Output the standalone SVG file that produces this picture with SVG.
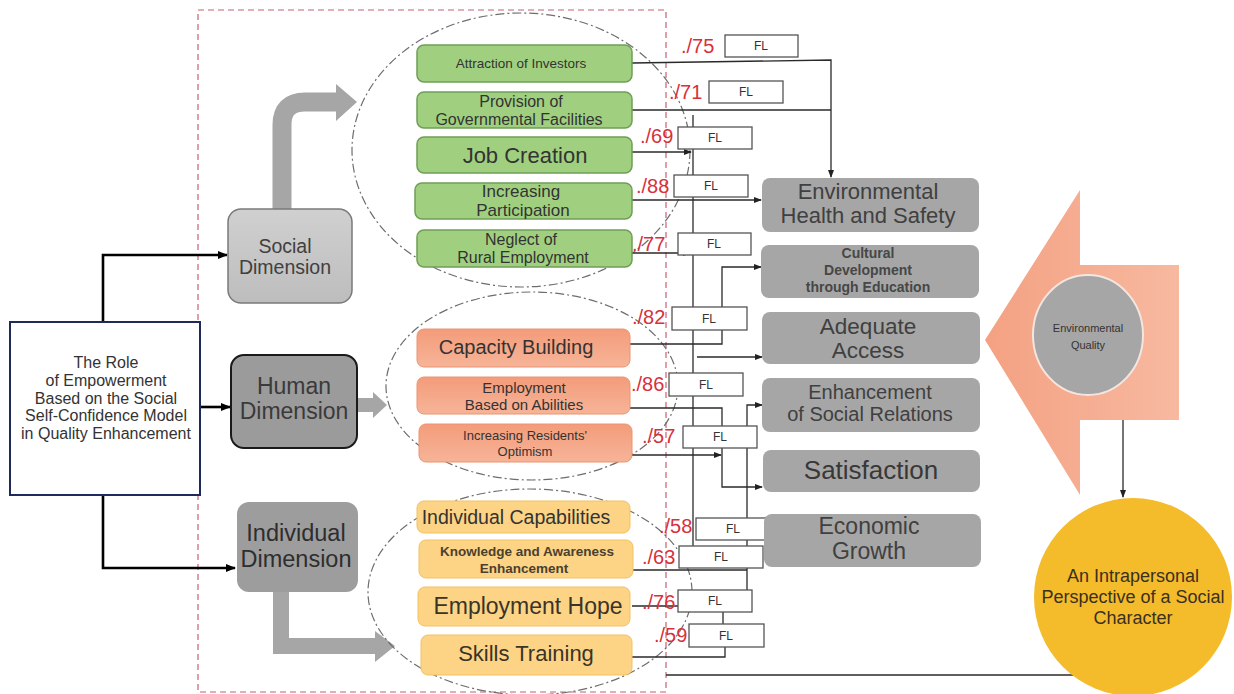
<svg xmlns="http://www.w3.org/2000/svg" width="1234" height="694" viewBox="0 0 1234 694">
<defs>
<marker id="ah" markerWidth="8" markerHeight="8" refX="7" refY="4" orient="auto" markerUnits="userSpaceOnUse"><path d="M0,1 L8,4 L0,7 Z" fill="#222"/></marker>
<marker id="ahb" markerWidth="10" markerHeight="10" refX="9" refY="5" orient="auto" markerUnits="userSpaceOnUse"><path d="M0,1 L10,5 L0,9 Z" fill="#000"/></marker>
<linearGradient id="gsoc" x1="0" y1="0" x2="0" y2="1"><stop offset="0" stop-color="#d0d0d0"/><stop offset="1" stop-color="#bdbdbd"/></linearGradient>
<linearGradient id="gor" x1="0" y1="0" x2="0" y2="1"><stop offset="0" stop-color="#f39c7a"/><stop offset="1" stop-color="#f7b498"/></linearGradient>
<linearGradient id="gbig" x1="0" y1="0" x2="1" y2="0"><stop offset="0" stop-color="#f4a182"/><stop offset="1" stop-color="#f7b9a0"/></linearGradient>
</defs>
<style>
text{font-family:"Liberation Sans",Arial,sans-serif;text-anchor:middle}
.green{fill:#a0d07f;stroke:#6f9e57;stroke-width:1.5}
.orange{fill:url(#gor);stroke:#eb9472;stroke-width:1}
.yellow{fill:#fdd486;stroke:#f3c15f;stroke-width:1}
.grey{fill:#a6a6a6}
.t{fill:#333}
.tg{fill:#404040}
.fl{fill:#fff;stroke:#555;stroke-width:1.3}
.flt{font-size:12px;fill:#333}
.red{font-size:20px;fill:#d8303c;text-anchor:start}
.conn{fill:none;stroke:#2a2a2a;stroke-width:1.3}
.blk{fill:none;stroke:#000;stroke-width:2.6}
.ell{fill:none;stroke:#6d6d6d;stroke-width:1.2;stroke-dasharray:9 3 2 3}
.garrow{fill:#a6a6a6}
</style>

<!-- red dashed frame -->
<rect x="198" y="10" width="468" height="682" fill="none" stroke="#c8606e" stroke-width="1.2" stroke-dasharray="6 4"/>

<!-- grey arrows -->
<g id="arrows-dim">
<path d="M282,209 V125 Q282,102 305,102 H337" fill="none" stroke="#a6a6a6" stroke-width="19"/>
<polygon class="garrow" points="336,84 357,102 336,121"/>
<rect class="garrow" x="358" y="398" width="16" height="14"/>
<polygon class="garrow" points="373,392 387,405 373,418"/>
<path d="M281,592 V646 H377" fill="none" stroke="#a6a6a6" stroke-width="16"/>
<polygon class="garrow" points="375,631 395,646 375,662"/>
</g>

<!-- dashed ellipses -->
<ellipse class="ell" cx="521" cy="150" rx="169" ry="137"/>
<ellipse class="ell" cx="532" cy="386" rx="146" ry="94"/>
<ellipse class="ell" cx="530" cy="592" rx="162" ry="103"/>

<!-- connectors -->
<g id="connectors">
<path class="blk" d="M103,322 V255 H227" marker-end="url(#ahb)"/>
<path class="blk" d="M200,407 H230" marker-end="url(#ahb)"/>
<path class="blk" d="M103,495 V568 H235" marker-end="url(#ahb)"/>

<path class="conn" d="M632,63 L831,60 V177" marker-end="url(#ah)"/>
<path class="conn" d="M632,110 H831"/>
<path class="conn" d="M632,152 H691" marker-end="url(#ah)"/>
<path class="conn" d="M693,115 V546"/>
<path class="conn" d="M632,200 H761" marker-end="url(#ah)"/>
<path class="conn" d="M632,253 H690" marker-end="url(#ah)"/>
<path class="conn" d="M630,344 H722 V267 H761" marker-end="url(#ah)"/>
<path class="conn" d="M697,357 H762" marker-end="url(#ah)"/>
<path class="conn" d="M630,408 H722 V427"/>
<path class="conn" d="M632,455 H721" marker-end="url(#ah)"/>
<path class="conn" d="M722,448 V487 H762" marker-end="url(#ah)"/>
<path class="conn" d="M747,590 V405 H762" marker-end="url(#ah)"/>
<path class="conn" d="M633,570 H747"/>
<path class="conn" d="M632,606 H678"/>
<path class="conn" d="M723,612 V624"/>
<path class="conn" d="M632,657 H725 V647"/>
<path class="conn" d="M666,675 H1125"/>
<path class="conn" d="M1123,420 V497" marker-end="url(#ah)"/>
</g>

<!-- left main node -->
<g id="n-role">
<rect x="10" y="322" width="190" height="173" fill="#fff" stroke="#1f2a5c" stroke-width="2"/>
<text class="t" font-size="16" x="106"><tspan x="106" y="368">The Role</tspan><tspan x="106" y="386">of Empowerment</tspan><tspan x="106" y="404">Based on the Social</tspan><tspan x="106" y="421">Self-Confidence Model</tspan><tspan x="106" y="439">in Quality Enhancement</tspan></text>
</g>

<g id="n-social">
<rect x="228" y="209" width="124" height="94" rx="13" fill="url(#gsoc)" stroke="#7a7a7a" stroke-width="1.5"/>
<text class="tg" font-size="19.5"><tspan x="285" y="253">Social</tspan><tspan x="285" y="274">Dimension</tspan></text>
</g>
<g id="n-human">
<rect x="231" y="355" width="126" height="93" rx="13" fill="#9b9b9b" stroke="#1a1a1a" stroke-width="2"/>
<text fill="#3a3a3a" font-size="23"><tspan x="294" y="394">Human</tspan><tspan x="294" y="419">Dimension</tspan></text>
</g>
<g id="n-individual">
<rect x="237" y="502" width="121" height="90" rx="12" fill="#9d9d9d"/>
<text fill="#2e2e2e" font-size="23.5"><tspan x="296" y="541">Individual</tspan><tspan x="296" y="567">Dimension</tspan></text>
</g>

<!-- green boxes -->
<g id="n-attraction"><rect class="green" x="417" y="45" width="215" height="37" rx="7"/><text class="t" font-size="13.5" x="521" y="68">Attraction of Investors</text></g>
<g id="n-provision"><rect class="green" x="417" y="92" width="215" height="36" rx="7"/><text class="t" font-size="16"><tspan x="521" y="107">Provision of</tspan><tspan x="519" y="125">Governmental Facilities</tspan></text></g>
<g id="n-jobcreation"><rect class="green" x="417" y="137" width="215" height="36" rx="7"/><text class="t" font-size="22" x="525" y="163">Job Creation</text></g>
<g id="n-participation"><rect class="green" x="415" y="183" width="217" height="36" rx="7"/><text class="t" font-size="17"><tspan x="521" y="197">Increasing</tspan><tspan x="523" y="216">Participation</tspan></text></g>
<g id="n-neglect"><rect class="green" x="417" y="230" width="215" height="37" rx="7"/><text class="t" font-size="16"><tspan x="521" y="245">Neglect of</tspan><tspan x="523" y="263">Rural Employment</tspan></text></g>

<!-- orange boxes -->
<g id="n-capacity"><rect class="orange" x="417" y="329" width="213" height="38" rx="7"/><text class="t" font-size="20" x="516" y="354">Capacity Building</text></g>
<g id="n-abilities"><rect class="orange" x="417" y="377" width="213" height="37" rx="7"/><text class="t" font-size="15"><tspan x="524" y="393">Employment</tspan><tspan x="524" y="410">Based on Abilities</tspan></text></g>
<g id="n-optimism"><rect class="orange" x="419" y="424" width="213" height="38" rx="7"/><text class="t" font-size="13"><tspan x="525" y="440">Increasing Residents'</tspan><tspan x="525" y="456">Optimism</tspan></text></g>

<!-- yellow boxes -->
<g id="n-indcap"><rect class="yellow" x="417" y="501" width="213" height="32" rx="7"/><text class="t" font-size="19.5" x="516" y="524">Individual Capabilities</text></g>
<g id="n-knowledge"><rect class="yellow" x="419" y="540" width="214" height="38" rx="7"/><text fill="#4a4030" font-size="13.5" font-weight="bold"><tspan x="527" y="556">Knowledge and Awareness</tspan><tspan x="524" y="573">Enhancement</tspan></text></g>
<g id="n-hope"><rect class="yellow" x="418" y="587" width="212" height="39" rx="7"/><text fill="#3a3328" font-size="23" x="528" y="614">Employment Hope</text></g>
<g id="n-skills"><rect class="yellow" x="421" y="635" width="211" height="40" rx="7"/><text fill="#3a3328" font-size="22" x="526" y="661">Skills Training</text></g>

<!-- FL loadings -->
<g id="loadings">
<rect class="fl" x="725" y="35" width="73" height="22"/><text class="flt" x="761" y="50">FL</text><text class="red" x="681" y="53">./75</text>
<rect class="fl" x="709" y="81" width="74" height="22"/><text class="flt" x="746" y="96">FL</text><text class="red" x="669" y="99">./71</text>
<rect class="fl" x="678" y="127" width="74" height="22"/><text class="flt" x="715" y="142">FL</text><text class="red" x="640" y="143">./69</text>
<rect class="fl" x="674" y="175" width="74" height="22"/><text class="flt" x="711" y="190">FL</text><text class="red" x="636" y="193">./88</text>
<rect class="fl" x="678" y="233" width="73" height="22"/><text class="flt" x="714" y="248">FL</text><text class="red" x="632" y="251">./77</text>
<rect class="fl" x="672" y="307" width="75" height="23"/><text class="flt" x="709" y="323">FL</text><text class="red" x="632" y="324">./82</text>
<rect class="fl" x="669" y="373" width="74" height="23"/><text class="flt" x="706" y="389">FL</text><text class="red" x="631" y="391">./86</text>
<rect class="fl" x="683" y="426" width="74" height="22"/><text class="flt" x="720" y="441">FL</text><text class="red" x="642" y="443">./57</text>
<rect class="fl" x="696" y="518" width="74" height="22"/><text class="flt" x="733" y="533">FL</text><text class="red" x="659" y="533">./58</text>
<rect class="fl" x="679" y="546" width="84" height="22"/><text class="flt" x="721" y="561">FL</text><text class="red" x="642" y="564">./63</text>
<rect class="fl" x="678" y="590" width="74" height="22"/><text class="flt" x="715" y="605">FL</text><text class="red" x="642" y="609">./76</text>
<rect class="fl" x="689" y="624" width="75" height="23"/><text class="flt" x="726" y="640">FL</text><text class="red" x="654" y="642">./59</text>
</g>

<!-- grey outcome boxes -->
<g id="n-envhealth"><rect class="grey" x="762" y="178" width="217" height="54" rx="8"/><text class="tg" font-size="22"><tspan x="868" y="199">Environmental</tspan><tspan x="868" y="223">Health and Safety</tspan></text></g>
<g id="n-cultural"><rect class="grey" x="761" y="245" width="218" height="53" rx="8"/><text fill="#474747" font-size="14" font-weight="bold"><tspan x="868" y="258">Cultural</tspan><tspan x="868" y="275">Development</tspan><tspan x="868" y="292">through Education</tspan></text></g>
<g id="n-access"><rect class="grey" x="762" y="312" width="218" height="52" rx="8"/><text class="tg" font-size="22.5"><tspan x="868" y="334">Adequate</tspan><tspan x="868" y="358">Access</tspan></text></g>
<g id="n-social-rel"><rect class="grey" x="762" y="378" width="218" height="54" rx="8"/><text class="tg" font-size="20"><tspan x="870" y="399">Enhancement</tspan><tspan x="870" y="421">of Social Relations</tspan></text></g>
<g id="n-satisfaction"><rect class="grey" x="763" y="450" width="217" height="42" rx="8"/><text fill="#383838" font-size="26" x="871" y="479">Satisfaction</text></g>
<g id="n-economic"><rect class="grey" x="764" y="514" width="217" height="53" rx="8"/><text class="tg" font-size="23"><tspan x="869" y="534">Economic</tspan><tspan x="869" y="559">Growth</tspan></text></g>

<!-- environmental quality -->
<g id="n-envquality">
<polygon points="1080,190 1080,265 1179,265 1179,420 1080,420 1080,495 985,340" fill="url(#gbig)"/>
<ellipse cx="1088" cy="335" rx="55" ry="60" fill="#a6a6a6" stroke="#f3e6e0" stroke-width="2"/>
<text fill="#333" font-size="11"><tspan x="1088" y="332">Environmental</tspan><tspan x="1088" y="349">Quality</tspan></text>
</g>

<g id="n-intrapersonal">
<ellipse cx="1133" cy="597" rx="99" ry="99" fill="#f4bb2b"/>
<text fill="#3a3020" font-size="18"><tspan x="1133" y="582">An Intrapersonal</tspan><tspan x="1133" y="603">Perspective of a Social</tspan><tspan x="1133" y="624">Character</tspan></text>
</g>
</svg>
